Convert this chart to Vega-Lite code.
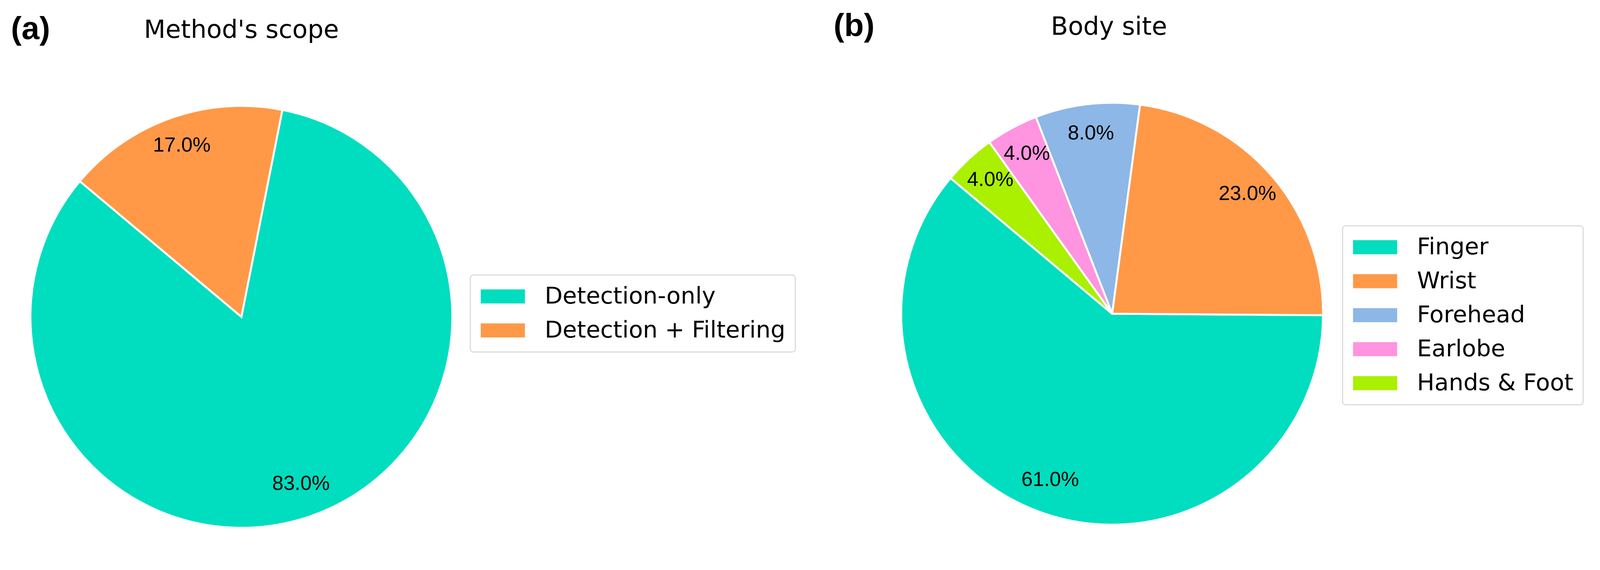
{
  "$schema": "https://vega.github.io/schema/vega-lite/v6.json",
  "background": "white",
  "padding": {"left": 0, "top": 26, "right": 20, "bottom": 40},
  "config": {
    "view": {"stroke": null},
    "legend": {
      "orient": "none",
      "title": null,
      "labelFont": "DejaVu Sans",
      "labelFontSize": 59.5,
      "labelColor": "black",
      "labelLimit": 3000,
      "symbolType": "M-1,-1H5.278V1H-1Z",
      "symbolSize": 1296,
      "symbolStrokeWidth": 0,
      "symbolOffset": -10,
      "labelOffset": 116,
      "rowPadding": 26,
      "padding": 25,
      "strokeColor": "#dcdcdc",
      "strokeWidth": 3,
      "cornerRadius": 8,
      "fillColor": "white"
    }
  },
  "datasets": {
    "scope": [
      {"category": "Detection-only", "pct": 83, "label": "83.0%", "idx": 1},
      {"category": "Detection + Filtering", "pct": 17, "label": "17.0%", "idx": 2}
    ],
    "site": [
      {"category": "Finger", "pct": 61, "label": "61.0%", "idx": 1},
      {"category": "Wrist", "pct": 23, "label": "23.0%", "idx": 2},
      {"category": "Forehead", "pct": 8, "label": "8.0%", "idx": 3},
      {"category": "Earlobe", "pct": 4, "label": "4.0%", "idx": 4},
      {"category": "Hands & Foot", "pct": 4, "label": "4.0%", "idx": 5}
    ]
  },
  "spacing": 96,
  "resolve": {"scale": {"color": "independent", "theta": "independent"}, "legend": {"color": "independent"}},
  "hconcat": [
    {
      "title": {"text": "(a)", "font": "Liberation Sans", "fontSize": 82, "fontWeight": "bold", "color": "black", "anchor": "start", "frame": "group", "offset": -71, "dx": 28},
      "resolve": {"scale": {"color": "independent", "theta": "independent"}, "legend": {"color": "independent"}},
      "hconcat": [
        {
          "title": {"text": "Method's scope", "font": "DejaVu Sans", "fontSize": 64, "fontWeight": "normal", "color": "black", "anchor": "middle", "frame": "group", "offset": 151},
          "width": 1236,
          "height": 1086,
          "data": {"name": "scope"},
          "encoding": {
            "theta": {"field": "pct", "type": "quantitative", "stack": true, "scale": {"range": [5.410521, -0.872665]}},
            "order": {"field": "idx", "type": "quantitative"}
          },
          "layer": [
            {
              "mark": {"type": "arc", "outerRadius": 540, "stroke": "white", "strokeWidth": 5},
              "encoding": {
                "color": {"field": "category", "type": "nominal",
                  "scale": {"domain": ["Detection-only", "Detection + Filtering"], "range": ["#00DDBF", "#FF9948"]},
                  "legend": {"legendX": 1204, "legendY": 436}}
              }
            },
            {
              "mark": {"type": "text", "radius": 459, "dy": -6, "font": "Liberation Sans", "fontSize": 52, "color": "black", "align": "center", "baseline": "middle"},
              "encoding": {
                "detail": {"field": "category", "type": "nominal"},
                "text": {"field": "label", "type": "nominal"}
              }
            }
          ]
        }
      ]
    },
    {
      "title": {"text": "(b)", "font": "Liberation Sans", "fontSize": 82, "fontWeight": "bold", "color": "black", "anchor": "start", "frame": "group", "offset": -71, "dx": 0},
      "resolve": {"scale": {"color": "independent", "theta": "independent"}, "legend": {"color": "independent"}},
      "hconcat": [
        {
          "title": {"text": "Body site", "font": "DejaVu Sans", "fontSize": 64, "fontWeight": "normal", "color": "black", "anchor": "middle", "frame": "group", "offset": 151, "dx": -8},
          "width": 1426,
          "height": 1070,
          "data": {"name": "site"},
          "encoding": {
            "theta": {"field": "pct", "type": "quantitative", "stack": true, "scale": {"range": [5.410521, -0.872665]}},
            "order": {"field": "idx", "type": "quantitative"}
          },
          "layer": [
            {
              "mark": {"type": "arc", "outerRadius": 540, "stroke": "white", "strokeWidth": 5},
              "encoding": {
                "color": {"field": "category", "type": "nominal",
                  "scale": {"domain": ["Finger", "Wrist", "Forehead", "Earlobe", "Hands & Foot"], "range": ["#00DDBF", "#FF9948", "#8DB7E6", "#FF94E0", "#AAF000"]},
                  "legend": {"legendX": 1303, "legendY": 310}}
              }
            },
            {
              "mark": {"type": "text", "radius": 459, "dy": -6, "font": "Liberation Sans", "fontSize": 52, "color": "black", "align": "center", "baseline": "middle"},
              "encoding": {
                "detail": {"field": "category", "type": "nominal"},
                "text": {"field": "label", "type": "nominal"}
              }
            }
          ]
        }
      ]
    }
  ]
}
